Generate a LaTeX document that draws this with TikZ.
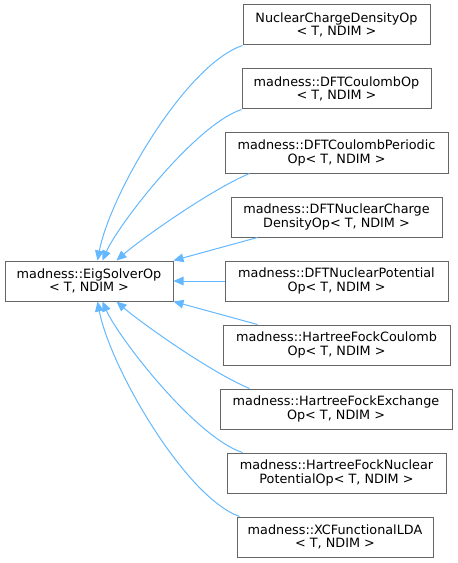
\documentclass[tikz,border=0pt]{standalone}
\usepackage{fontspec}
\setmainfont{DejaVu Sans}
\usetikzlibrary{arrows.meta,calc}
\definecolor{edgeblue}{HTML}{63B8FF}
\definecolor{boxgray}{HTML}{666666}
\begin{document}
\begin{tikzpicture}[x=0.75pt,y=-0.75pt,
  box/.style={draw=boxgray,line width=0.75pt,fill=white,align=center,inner sep=0pt,
    minimum height=30pt,font=\fontsize{9.6}{10.2}\selectfont},
  edge/.style={draw=edgeblue,line width=0.75pt,{Triangle[length=7.5pt,width=6.5pt,fill=edgeblue]}-}]
\useasboundingbox (0,0) rectangle (457,563);
\node[box,minimum width=126pt] (main) at (89,281) {madness::EigSolverOp\\< T, NDIM >};
\node[box,minimum width=140.25pt] (b1) at (336.5,25) {NuclearChargeDensityOp\\< T, NDIM >};
\node[box,minimum width=141.75pt] (b2) at (336.5,89) {madness::DFTCoulombOp\\< T, NDIM >};
\node[box,minimum width=167.25pt] (b3) at (336.5,153) {madness::DFTCoulombPeriodic\\Op< T, NDIM >};
\node[box,minimum width=158.25pt] (b4) at (336.5,217) {madness::DFTNuclearCharge\\DensityOp< T, NDIM >};
\node[box,minimum width=167.25pt] (b5) at (336.5,281) {madness::DFTNuclearPotential\\Op< T, NDIM >};
\node[box,minimum width=170.25pt] (b6) at (336.5,345) {madness::HartreeFockCoulomb\\Op< T, NDIM >};
\node[box,minimum width=174pt] (b7) at (336,409) {madness::HartreeFockExchange\\Op< T, NDIM >};
\node[box,minimum width=164.25pt] (b8) at (336.5,473) {madness::HartreeFockNuclear\\PotentialOp< T, NDIM >};
\node[box,minimum width=147pt] (b9) at (335,537) {madness::XCFunctionalLDA\\< T, NDIM >};
% top edges
\draw[edge] ($(main.north west)+(93,0)$) .. controls (110,195) and (185,65) .. (b1.south west);
\draw[edge] ($(main.north west)+(98,0)$) .. controls (118,225) and (195,125) .. (b2.south west);
\draw[edge] ($(main.north west)+(112,0)$) .. controls (140,240) and (210,190) .. ($(b3.south west)+(25,0)$);
\draw[edge] (main.north east) -- ($(b4.south west)+(27,0)$);
\draw[edge] (main.east) -- (b5.west);
\draw[edge] (main.south east) -- ($(b6.north west)+(35,0)$);
% bottom edges
\draw[edge] ($(main.south west)+(112,0)$) .. controls (140,322) and (210,372) .. ($(b7.north west)+(30,0)$);
\draw[edge] ($(main.south west)+(98,0)$) .. controls (118,337) and (195,437) .. ($(b8.north west)+(16,0)$);
\draw[edge] ($(main.south west)+(93,0)$) .. controls (110,367) and (185,497) .. ($(b9.north west)+(3,0)$);
\end{tikzpicture}
\end{document}
